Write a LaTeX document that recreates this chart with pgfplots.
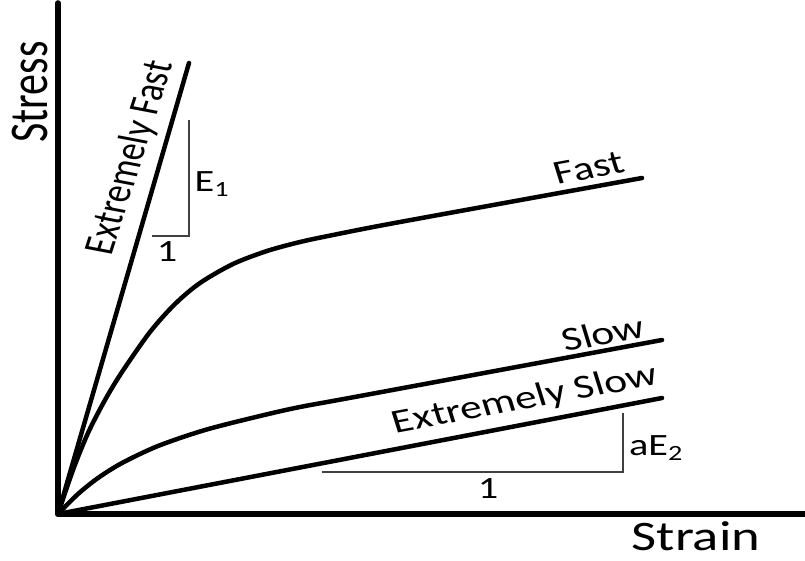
\documentclass[border=0pt]{standalone}
\usepackage{fontspec}
\setmainfont{Carlito}
\usepackage{pgfplots}
\pgfplotsset{compat=1.18}
\begin{document}
\begin{tikzpicture}
\useasboundingbox (0,0) rectangle (805pt,560pt);
\begin{axis}[
  at={(58pt,46pt)}, anchor=south west,
  scale only axis, width=747pt, height=511pt,
  xmin=0, xmax=747, ymin=0, ymax=511,
  axis x line*=bottom, axis y line*=left,
  axis line style={line width=5.5pt, line cap=round, -},
  xtick=\empty, ytick=\empty,
  clip=false,
]
% Extremely Fast
\addplot[black, line width=4.5pt, line cap=round] coordinates {(0,0) (131,451)};
% Fast
\addplot[black, line width=4.5pt, line cap=round, smooth, tension=0.5] coordinates {
 (0,0) (15,44) (30,81) (47,114) (64,142) (92,182) (117,210) (142,231)
 (175,250) (209,263) (242,272) (275,279) (342,292) (584,336)};
% Slow
\addplot[black, line width=4.5pt, line cap=round, smooth, tension=0.5] coordinates {
 (0,0) (20,20) (40,36) (64,51) (100,68) (147,84) (202,98) (242,107) (302,118) (604,174)};
% Extremely Slow
\addplot[black, line width=4.5pt, line cap=round] coordinates {(0,0) (604,116)};
% slope triangles
\addplot[black!75, line width=1.3pt] coordinates {(94,278) (131,278) (131,394)};
\addplot[black!75, line width=1.3pt] coordinates {(264,42) (565,42) (565,101)};
% labels
\node[font=\fontsize{42}{42}\selectfont, xscale=1.3, rotate=90] at (axis cs:-28,422) {Stress};
\node[font=\fontsize{42}{42}\selectfont, xscale=1.3] at (axis cs:638,-22) {Strain};
\node[font=\fontsize{33.5}{33.5}\selectfont, xscale=1.3, rotate=76] at (axis cs:73,356) {Extremely Fast};
\node[font=\fontsize{33.5}{33.5}\selectfont, xscale=1.3, rotate=13.5] at (axis cs:531,346) {Fast};
\node[font=\fontsize{33.5}{33.5}\selectfont, xscale=1.3, rotate=13.2] at (axis cs:545,181) {Slow};
\node[font=\fontsize{33.5}{33.5}\selectfont, xscale=1.3, rotate=13.5] at (axis cs:467,114) {Extremely Slow};
\node[font=\fontsize{31}{31}\selectfont, xscale=1.3] at (axis cs:154,330) {E\textsubscript{1}};
\node[font=\fontsize{31}{31}\selectfont, xscale=1.3] at (axis cs:109,262) {1};
\node[font=\fontsize{31}{31}\selectfont, xscale=1.3] at (axis cs:598,66) {aE\textsubscript{2}};
\node[font=\fontsize{31}{31}\selectfont, xscale=1.3] at (axis cs:430,25) {1};
\end{axis}
\end{tikzpicture}
\end{document}
